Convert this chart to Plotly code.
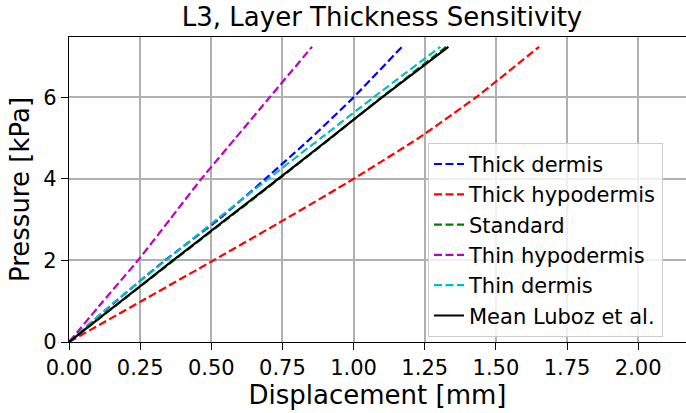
import plotly.graph_objects as go

# Data (pressure in kPa vs displacement in mm)
pressure = [0, 1, 2, 3, 4, 5, 6, 7.24]
thick_dermis = [0, 0.165, 0.337, 0.525, 0.69, 0.85, 1.0, 1.17]
thick_hypodermis = [0, 0.254, 0.507, 0.757, 1.0, 1.228, 1.43, 1.652]
standard = [0, 0.184, 0.368, 0.553, 0.738, 0.92, 1.098, 1.325]
thin_hypodermis = [0, 0.12, 0.242, 0.354, 0.465, 0.585, 0.705, 0.854]
thin_dermis = [0, 0.163, 0.34, 0.518, 0.70, 0.885, 1.07, 1.305]
mean_luboz = [0, 0.183, 0.365, 0.55, 0.735, 0.918, 1.10, 1.333]

x_ticks = [0, 0.25, 0.5, 0.75, 1.0, 1.25, 1.5, 1.75, 2.0]
x_tick_labels = ["0.00", "0.25", "0.50", "0.75", "1.00", "1.25", "1.50", "1.75", "2.00"]
y_ticks = [0, 2, 4, 6]
y_tick_labels = ["0", "2", "4", "6"]

series = [
    ("Thick dermis", thick_dermis, "#0000ff", "8px,3.5px"),
    ("Thick hypodermis", thick_hypodermis, "#ff0000", "8px,3.5px"),
    ("Standard", standard, "#008000", "8px,3.5px"),
    ("Thin hypodermis", thin_hypodermis, "#bf00bf", "8px,3.5px"),
    ("Thin dermis", thin_dermis, "#00bfbf", "8px,3.5px"),
    ("Mean Luboz et al.", mean_luboz, "#000000", "solid"),
]

fig = go.Figure()
for name, disp, color, dash in series:
    fig.add_trace(go.Scatter(
        x=disp, y=pressure, mode="lines", name=name,
        line=dict(color=color, width=2.2, dash=dash, shape="spline", smoothing=0.4),
    ))

font_family = "DejaVu Sans"
fig.update_layout(
    width=686, height=413,
    margin=dict(l=69, r=0, t=37, b=71, autoexpand=False),
    paper_bgcolor="white", plot_bgcolor="white",
    font=dict(family=font_family, color="black"),
    title=dict(text="L3, Layer Thickness Sensitivity", x=382/686, xanchor="center",
               xref="container", y=1 - 17/413, yanchor="middle", yref="container",
               font=dict(size=26, family=font_family, color="black")),
    showlegend=True,
    legend=dict(x=(428 - 69) / 617, xanchor="left", y=0.653, yanchor="top",
                bgcolor="rgba(255,255,255,0.8)", bordercolor="#cccccc", borderwidth=1,
                font=dict(size=21, family=font_family, color="black"),
                tracegroupgap=0),
)
fig.update_xaxes(
    range=[0, 2.168], tickvals=x_ticks, ticktext=x_tick_labels,
    showgrid=True, gridcolor="#b0b0b0", gridwidth=1.5,
    showline=True, linecolor="black", linewidth=1.3, mirror=True,
    ticks="outside", ticklen=7, tickwidth=1.3, tickcolor="black",
    tickfont=dict(size=21, family=font_family),
    title=dict(text="Displacement [mm]", font=dict(size=26, family=font_family), standoff=5),
    zeroline=False, automargin=False,
)
fig.update_yaxes(
    range=[0, 7.48], tickvals=y_ticks, ticktext=y_tick_labels,
    showgrid=True, gridcolor="#b0b0b0", gridwidth=1.5,
    showline=True, linecolor="black", linewidth=1.3, mirror=False,
    ticks="outside", ticklen=7, tickwidth=1.3, tickcolor="black",
    tickfont=dict(size=21, family=font_family),
    title=dict(text="Pressure [kPa]", font=dict(size=26, family=font_family), standoff=6),
    zeroline=False, automargin=False,
)

fig.write_html("out.html", config={"displayModeBar": False},
               post_script="document.body.style.margin='0';document.body.style.overflow='hidden';")
